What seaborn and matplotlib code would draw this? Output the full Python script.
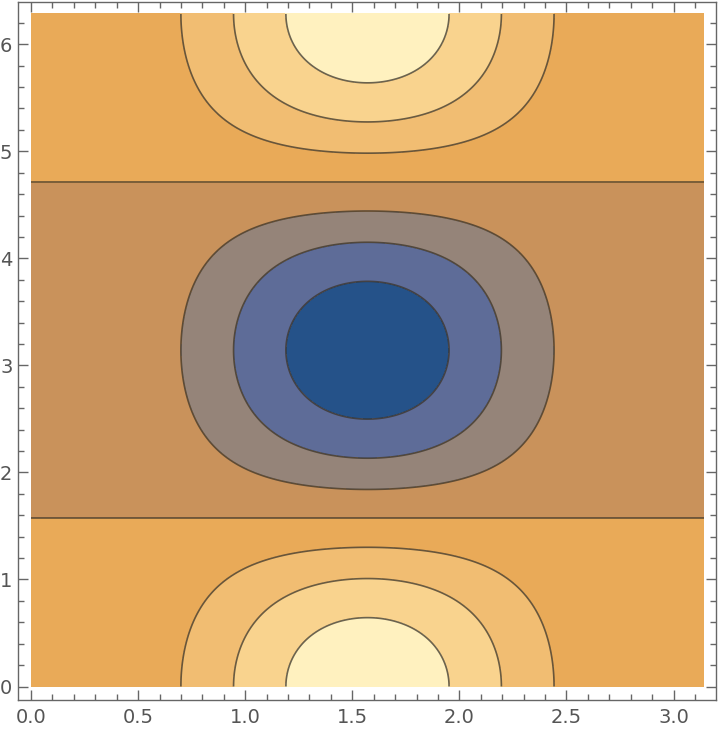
import numpy as np
import seaborn as sns
import matplotlib.pyplot as plt
from matplotlib.ticker import MultipleLocator

# plot range and contour levels
x_range = [0.0, np.pi]
y_range = [0.0, 2 * np.pi]
levels = [-1.0, -0.8, -0.533, -0.267, 0.0, 0.267, 0.533, 0.8, 1.0]
band_colors = ["#255289", "#5e6c98", "#958479", "#c9925b",
               "#e9aa58", "#f1bd72", "#f9d38e", "#fff1bf"]
x_ticks = [0.0, 0.5, 1.0, 1.5, 2.0, 2.5, 3.0]
y_ticks = [0, 1, 2, 3, 4, 5, 6]

sns.set_style("white")
plt.rcParams["font.family"] = ["DejaVu Sans"]

# field: sin(x)^3 cos(y)
xs = np.linspace(x_range[0] + 1e-6, x_range[1] - 1e-6, 400)
ys = np.linspace(y_range[0], y_range[1], 600)
X, Y = np.meshgrid(xs, ys)
Z = np.sin(X) ** 3 * np.cos(Y)

fig = plt.figure(figsize=(7.2, 7.34), dpi=100)
ax = fig.add_axes([0.025, 0.0463, 0.9694, 0.951])

ax.contourf(X, Y, Z, levels=levels, colors=band_colors)
ax.contour(X, Y, Z, levels=levels[1:-1], colors="#3a3328", linewidths=1.2,
           alpha=0.75, linestyles="solid")

ax.set_xlim(-0.061, 3.198)
ax.set_ylim(-0.126, 6.395)
ax.set_xticks(x_ticks)
ax.set_yticks(y_ticks)
ax.set_xticklabels([f"{t:.1f}" for t in x_ticks])
ax.set_yticklabels([str(t) for t in y_ticks])
ax.xaxis.set_minor_locator(MultipleLocator(0.1))
ax.yaxis.set_minor_locator(MultipleLocator(0.2))

ax.tick_params(which="both", direction="in", top=True, right=True,
               color="#666666", width=1, labelcolor="#555555", labelsize=14,
               left=True, bottom=True)
ax.tick_params(which="major", length=7)
ax.tick_params(which="minor", length=4.5)
ax.tick_params(axis="x", pad=6)
ax.tick_params(axis="y", pad=4)
for s in ax.spines.values():
    s.set_color("#666666")
    s.set_linewidth(1)

fig.savefig("out.png", dpi=100)
